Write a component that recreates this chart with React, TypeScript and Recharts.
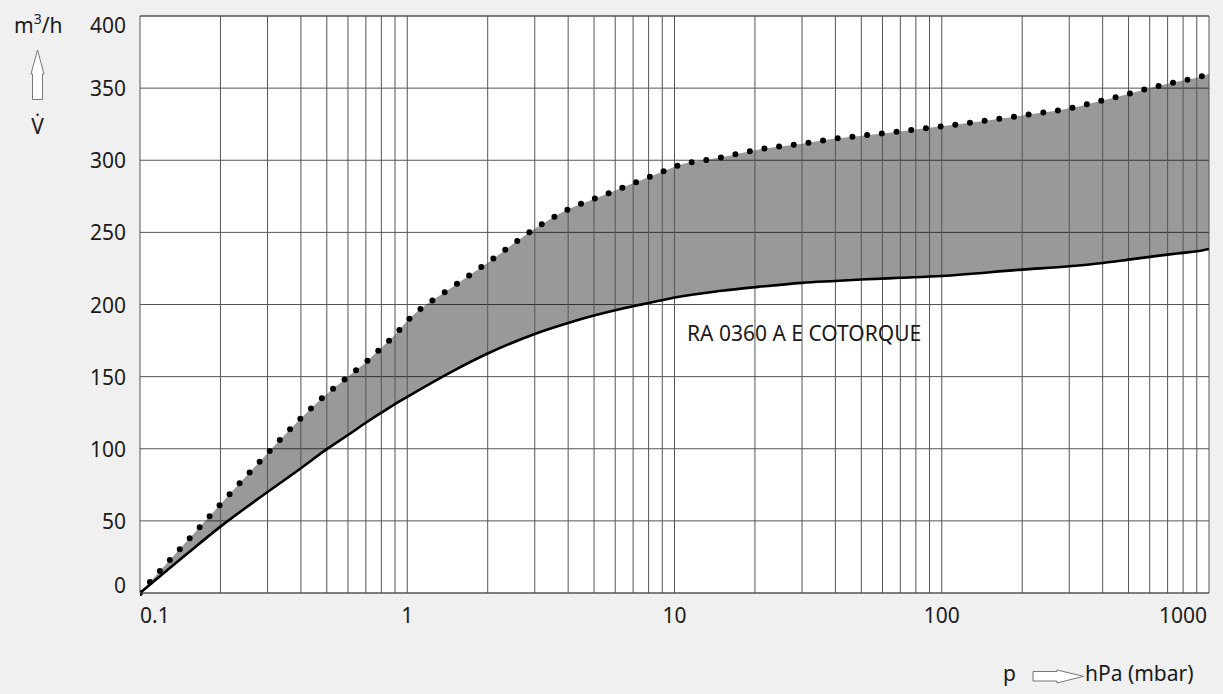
import React from 'react';
import {
  ComposedChart, Area, Line, XAxis, YAxis, CartesianGrid, ReferenceLine,
} from 'recharts';

// pressure in hPa (mbar), pumping speed in m3/h
const pressure = [0.1, 0.15, 0.2, 0.3, 0.4, 0.5, 0.6, 0.7, 0.8, 0.9, 1, 1.5, 2, 3, 4, 5, 6, 7, 8, 9, 10, 15, 20, 30, 40, 50, 70, 100, 200, 300, 400, 500, 600, 700, 800, 900, 1000];
const speedMax = [0, 36, 61.5, 96.9, 121.2, 138, 150, 160, 170, 179, 188.5, 213, 229, 252.5, 266, 273.2, 279, 284, 288.2, 292, 295.5, 302, 307, 311.5, 315, 317, 320, 323.5, 331, 336, 341.5, 346, 350, 353, 355.2, 357.2, 360];
const speedMin = [0, 27.2, 46, 70, 86.5, 99.7, 109.5, 118, 125, 131, 136, 154.4, 166, 179.6, 187.2, 192.3, 196, 198.8, 201, 203, 204.8, 209.5, 212, 215, 216.3, 217.3, 218.5, 219.8, 224.2, 226.5, 228.8, 231.1, 233, 234.6, 235.8, 236.9, 238.5];

const xTicks = [0.1, 1, 10, 100, 1000];
const yTicks = [0, 50, 100, 150, 200, 250, 300, 350, 400];
const decades = [0.1, 1, 10, 100];
const curveLabel = 'RA 0360 A E COTORQUE';

const data = pressure.map((p, i) => ({
  p,
  lo: speedMin[i],
  hi: speedMax[i],
  range: [speedMin[i], speedMax[i]],
}));

// minor log grid: 2..9 in every decade, plus the decade lines
const gridX: number[] = [];
decades.forEach((d) => {
  for (let m = 2; m <= 10; m++) gridX.push(d * m);
});

const FONT = "'Noto Sans', sans-serif";
const TXT = '#1a1a1a';
const GRID = '#555';

const XTick = (props: any) => {
  const { x, y, payload } = props;
  const v = payload.value;
  const anchor = v === xTicks[0] ? 'start' : v === xTicks[xTicks.length - 1] ? 'end' : 'middle';
  return (
    <text x={x} y={y + 29.5} textAnchor={anchor} fontFamily={FONT} fontSize={21} fill={TXT}>
      {String(v)}
    </text>
  );
};

const YTick = (props: any) => {
  const { x, y, payload } = props;
  const v = payload.value;
  const dy = v === yTicks[yTicks.length - 1] ? 16.5 : v === 0 ? 0 : 8;
  return (
    <text x={x - 14} y={y + dy} textAnchor="end" fontFamily={FONT} fontSize={21} fill={TXT}>
      {String(v)}
    </text>
  );
};

export default function App() {
  return (
    <div style={{ position: 'absolute', left: 0, top: 0, width: 1223, height: 694, background: '#f0f0f0' }}>
      <ComposedChart
        width={1223}
        height={694}
        data={data}
        margin={{ top: 16, right: 14, bottom: 70, left: 80 }}
      >
        <CartesianGrid vertical={false} stroke={GRID} fill="#fff" fillOpacity={1} />
        <XAxis
          dataKey="p"
          type="number"
          scale="log"
          domain={[0.1, 1000]}
          ticks={xTicks}
          allowDataOverflow
          height={31}
          tickSize={0}
          tickMargin={0}
          tickLine={false}
          axisLine={{ stroke: GRID }}
          tick={<XTick />}
        />
        <YAxis
          type="number"
          domain={[0, 400]}
          ticks={yTicks}
          width={60}
          tickSize={0}
          tickMargin={0}
          tickLine={false}
          axisLine={{ stroke: GRID }}
          tick={<YTick />}
        />
        <Area
          dataKey="range"
          type="monotone"
          fill="#000"
          fillOpacity={0.4}
          stroke="none"
          isAnimationActive={false}
        />
        {gridX.map((v) => (
          <ReferenceLine key={v} x={v} stroke={GRID} strokeWidth={1} />
        ))}
        <ReferenceLine y={400} stroke={GRID} />
        <Line
          dataKey="lo"
          type="monotone"
          stroke="#000"
          strokeWidth={2.6}
          dot={false}
          isAnimationActive={false}
        />
        <Line
          dataKey="hi"
          type="monotone"
          stroke="#000"
          strokeWidth={6}
          strokeDasharray="0 14.8"
          strokeLinecap="round"
          dot={false}
          isAnimationActive={false}
        />
      </ComposedChart>
      <svg
        width={1223}
        height={694}
        style={{ position: 'absolute', left: 0, top: 0, pointerEvents: 'none' }}
      >
        <text x={14} y={33} fontFamily={FONT} fontSize={21} fill={TXT}>
          m<tspan fontSize={14} dy={-9}>3</tspan><tspan dy={9}>/h</tspan>
        </text>
        <polygon
          points="37.5,50 44,74 42.5,74 42.5,99.5 32.5,99.5 32.5,74 31,74"
          fill="#fff"
          stroke="#777"
          strokeWidth={1}
        />
        <text x={37.5} y={134} textAnchor="middle" fontFamily={FONT} fontSize={21} fill={TXT}>
          {'V\u0307'}
        </text>
        <text x={687} y={341} fontFamily={FONT} fontSize={21} fill={TXT}>
          {curveLabel}
        </text>
        <text x={1003} y={681} fontFamily={FONT} fontSize={21} fill={TXT}>p</text>
        <polygon
          points="1033,671.5 1057,671.5 1057,670 1083.5,676.3 1057,683 1057,681 1033,681"
          fill="#fff"
          stroke="#777"
          strokeWidth={1}
        />
        <text x={1085} y={681} fontFamily={FONT} fontSize={21} fill={TXT}>hPa (mbar)</text>
      </svg>
    </div>
  );
}
